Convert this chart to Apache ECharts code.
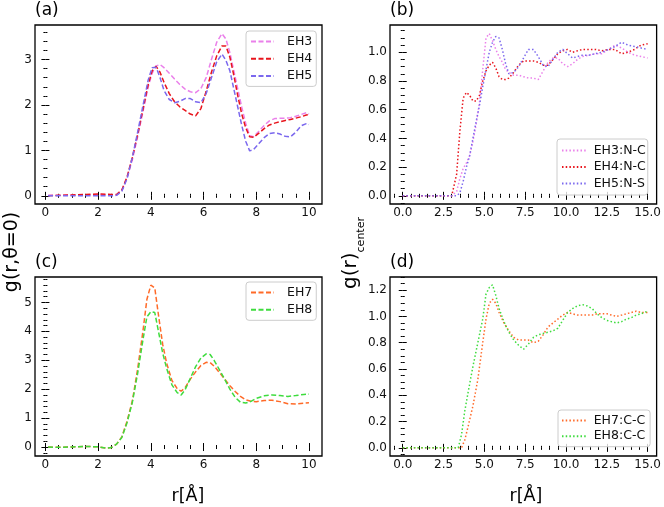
<!DOCTYPE html>
<html><head><meta charset="utf-8">
<script src="https://cdn.jsdelivr.net/npm/echarts@6/dist/echarts.min.js"></script>
<style>html,body{margin:0;padding:0;background:#fff}#c{width:664px;height:507px}</style>
</head><body><div id="c"></div>
<script>
// ---------- data ----------
const xA = [0.1,0.5,1.0,1.5,2.0,2.5,2.7,2.9,3.1,3.3,3.5,3.7,3.9,4.05,4.2,4.35,4.5,4.7,4.9,5.1,5.3,5.5,5.7,5.9,6.1,6.3,6.5,6.7,6.85,7.0,7.15,7.3,7.45,7.6,7.75,7.9,8.1,8.3,8.5,8.7,8.9,9.1,9.3,9.5,9.7,9.9,10.0];
const eh3 = [0.01,0.01,0.02,0.02,0.03,0.02,0.02,0.12,0.40,0.80,1.30,1.85,2.40,2.70,2.86,2.89,2.82,2.70,2.57,2.45,2.35,2.29,2.27,2.36,2.60,3.00,3.38,3.57,3.45,3.15,2.75,2.35,1.95,1.60,1.32,1.30,1.42,1.55,1.65,1.70,1.71,1.71,1.72,1.75,1.79,1.83,1.80];
const eh4 = [0.00,0.01,0.02,0.03,0.04,0.03,0.03,0.13,0.42,0.85,1.35,1.90,2.45,2.75,2.85,2.72,2.50,2.25,2.07,1.96,1.88,1.80,1.76,1.92,2.30,2.72,3.08,3.30,3.30,3.05,2.65,2.20,1.80,1.50,1.30,1.29,1.38,1.48,1.56,1.60,1.63,1.66,1.68,1.71,1.74,1.78,1.79];
const eh5 = [0.00,0.00,0.00,0.00,0.00,0.00,0.01,0.10,0.38,0.85,1.40,1.98,2.55,2.82,2.83,2.60,2.32,2.12,2.05,2.08,2.14,2.14,2.07,2.05,2.25,2.60,2.95,3.12,2.98,2.75,2.35,1.95,1.55,1.20,0.99,1.02,1.15,1.28,1.37,1.39,1.36,1.31,1.30,1.40,1.54,1.59,1.57];

const xB = [0.0,1.0,2.0,3.0,3.1,3.3,3.5,3.7,3.9,4.1,4.3,4.5,4.7,4.9,5.1,5.3,5.5,5.7,5.9,6.1,6.3,6.5,6.8,7.1,7.4,7.7,8.0,8.3,8.6,8.9,9.2,9.5,9.8,10.1,10.4,10.7,11.0,11.4,11.8,12.2,12.6,13.0,13.4,13.8,14.2,14.6,15.0];
const eh3NC = [0,0,0,0,0,0.03,0.12,0.19,0.23,0.28,0.38,0.50,0.65,0.88,1.10,1.13,1.08,1.02,0.97,0.93,0.88,0.86,0.84,0.84,0.83,0.82,0.82,0.81,0.87,0.93,0.96,0.96,0.92,0.90,0.92,0.95,0.97,0.98,0.99,0.99,1.02,1.05,1.03,1.00,0.98,0.97,0.96];
const eh4NC = [0,0,0,0,0,0.15,0.45,0.68,0.72,0.70,0.66,0.66,0.70,0.80,0.87,0.91,0.93,0.89,0.83,0.81,0.81,0.82,0.86,0.91,0.94,0.94,0.94,0.93,0.91,0.91,0.95,0.99,1.01,1.02,1.00,1.01,1.02,1.02,1.02,1.01,1.02,1.02,0.99,1.00,1.02,1.05,1.06];
const eh5NS = [0,0,0,0,0,0,0.02,0.10,0.20,0.28,0.40,0.52,0.63,0.76,0.88,1.00,1.07,1.11,1.10,1.02,0.92,0.85,0.86,0.90,0.96,1.02,1.02,0.97,0.91,0.90,0.95,1.00,1.02,0.99,0.96,0.97,0.98,0.98,0.99,1.00,1.02,1.04,1.07,1.05,1.04,1.03,1.02];

const xC = [0.1,0.5,1.0,1.5,2.0,2.3,2.5,2.7,2.9,3.1,3.3,3.5,3.7,3.85,4.0,4.15,4.3,4.45,4.6,4.8,5.0,5.15,5.3,5.5,5.7,5.9,6.1,6.25,6.4,6.6,6.8,7.0,7.2,7.4,7.6,7.8,8.0,8.3,8.6,8.9,9.2,9.5,9.8,10.0];
const eh7 = [0.00,-0.01,0.00,0.02,0.01,-0.04,-0.02,0.10,0.35,0.90,1.60,2.70,4.00,5.10,5.60,5.50,4.50,3.55,2.90,2.30,2.02,1.93,2.05,2.35,2.60,2.82,2.93,2.92,2.80,2.58,2.35,2.12,1.92,1.75,1.63,1.58,1.57,1.61,1.62,1.57,1.50,1.49,1.52,1.53];
const eh8 = [0.00,-0.01,0.00,0.02,0.01,-0.04,-0.02,0.10,0.33,0.85,1.55,2.55,3.70,4.50,4.68,4.65,3.95,3.25,2.72,2.15,1.88,1.80,1.98,2.38,2.78,3.08,3.22,3.20,3.00,2.68,2.35,2.00,1.72,1.55,1.52,1.58,1.68,1.77,1.80,1.78,1.75,1.78,1.82,1.83];

const xD = [0.0,1.0,2.0,3.0,3.4,3.6,3.8,4.0,4.3,4.6,4.9,5.1,5.3,5.5,5.7,5.9,6.2,6.5,6.8,7.1,7.4,7.7,8.0,8.3,8.6,8.9,9.2,9.5,9.8,10.1,10.4,10.7,11.0,11.3,11.6,11.9,12.2,12.5,12.8,13.1,13.4,13.7,14.0,14.3,14.6,15.0];
const eh7CC = [0,0,0,0,0,0,0.06,0.16,0.32,0.52,0.80,0.98,1.10,1.13,1.10,1.03,0.95,0.89,0.84,0.82,0.82,0.82,0.80,0.81,0.86,0.92,0.95,0.98,1.01,1.03,1.02,1.01,1.01,1.01,1.01,1.02,1.02,1.02,1.01,1.00,1.01,1.02,1.03,1.04,1.03,1.03];
const eh8CC = [0,0,0,0,0,0.10,0.28,0.42,0.62,0.80,0.98,1.17,1.22,1.24,1.16,1.06,0.96,0.88,0.82,0.78,0.75,0.79,0.84,0.86,0.87,0.88,0.89,0.91,0.97,1.03,1.06,1.08,1.09,1.08,1.06,1.02,0.99,0.97,0.96,0.95,0.96,0.98,0.99,1.01,1.02,1.04];

const aXTicks = [0,2,4,6,8,10];
const aYTicks = [0,1,2,3];
const bXTicks = [0,2.5,5,7.5,10,12.5,15];
const bYTicks = [0,0.2,0.4,0.6,0.8,1.0];
const cXTicks = [0,2,4,6,8,10];
const cYTicks = [0,1,2,3,4,5];
const dXTicks = [0,2.5,5,7.5,10,12.5,15];
const dYTicks = [0,0.2,0.4,0.6,0.8,1.0,1.2];

// ---------- chart ----------
const FONT = 'DejaVu Sans';
const pair = (xs, ys) => xs.map((x, i) => [x, ys[i]]);
function minors(lo, hi, step, majors) {
  const out = [];
  for (let k = Math.ceil(lo / step - 1e-9); k * step <= hi + 1e-9; k++) {
    const v = +(k * step).toFixed(6);
    if (!majors.some(m => Math.abs(m - v) < 1e-9)) out.push(v);
  }
  return out;
}
const panels = [
  {grid:{left:35,top:25,width:287,height:179}, xr:[-0.395,10.495], yr:[-0.18,3.76], xt:aXTicks, yt:aYTicks, xs:0.5, ys:0.2, xd:0, yd:0},
  {grid:{left:390,top:25,width:267,height:179}, xr:[-0.78,15.55], yr:[-0.057,1.19], xt:bXTicks, yt:bYTicks, xs:0.5, ys:0.05, xd:1, yd:1},
  {grid:{left:35,top:277,width:287,height:179}, xr:[-0.395,10.495], yr:[-0.31,5.88], xt:cXTicks, yt:cYTicks, xs:0.5, ys:0.2, xd:0, yd:0},
  {grid:{left:390,top:277,width:267,height:179}, xr:[-0.78,15.55], yr:[-0.062,1.30], xt:dXTicks, yt:dYTicks, xs:0.5, ys:0.05, xd:1, yd:1}
];
const grids = [], xAxes = [], yAxes = [];
const mainX = [], mainY = [];
panels.forEach((p, gi) => {
  grids.push(Object.assign({show:true, borderColor:'#000', borderWidth:1.3, backgroundColor:'#fff', containLabel:false}, p.grid));
  const xm = minors(p.xr[0], p.xr[1], p.xs, p.xt);
  const ym = minors(p.yr[0], p.yr[1], p.ys, p.yt);
  const base = (r) => ({type:'value', gridIndex:gi, min:r[0], max:r[1], splitLine:{show:false}, axisLine:{show:false}});
  [['bottom',true],['top',false]].forEach(([pos,lab]) => {
    if (lab) mainX.push(xAxes.length);
    xAxes.push(Object.assign(base(p.xr), {position:pos,
      axisTick:{show:true, inside:true, length:4, customValues:p.xt, lineStyle:{color:'#000', width:1}},
      axisLabel:{show:lab, customValues:p.xt, margin:3, color:'#111', fontFamily:FONT, fontSize:12,
        formatter:(v)=>(+v).toFixed(p.xd)}}));
    xAxes.push(Object.assign(base(p.xr), {position:pos,
      axisTick:{show:true, inside:true, length:2, customValues:xm, lineStyle:{color:'#000', width:1}},
      axisLabel:{show:false}}));
  });
  [['left',true],['right',false]].forEach(([pos,lab]) => {
    if (lab) mainY.push(yAxes.length);
    yAxes.push(Object.assign(base(p.yr), {position:pos,
      axisTick:{show:true, inside:true, length:4, customValues:p.yt, lineStyle:{color:'#000', width:1}},
      axisLabel:{show:lab, customValues:p.yt, margin:3, color:'#111', fontFamily:FONT, fontSize:12,
        formatter:(v)=>(+v).toFixed(p.yd)}}));
    yAxes.push(Object.assign(base(p.yr), {position:pos,
      axisTick:{show:true, inside:true, length:2, customValues:ym, lineStyle:{color:'#000', width:1}},
      axisLabel:{show:false}}));
  });
});
const DASH = [5, 2.5], DOT = [1.5, 2.2];
function ser(name, gi, xs, ys, color, type) {
  return {name, type:'line', xAxisIndex:mainX[gi], yAxisIndex:mainY[gi], data:pair(xs, ys),
    showSymbol:false, symbol:'none', smooth:false, animation:false,
    lineStyle:{color, width:1.5, type, cap:'butt'}, itemStyle:{color}};
}
const C3 = '#ea80ea', C4 = '#e8141c', C5 = '#7b68ee', C7 = '#ff6a28', C8 = '#3edc3e';
const series = [
  ser('EH3', 0, xA, eh3, C3, DASH),
  ser('EH4', 0, xA, eh4, C4, DASH),
  ser('EH5', 0, xA, eh5, C5, DASH),
  ser('EH3:N-C', 1, xB, eh3NC, C3, DOT),
  ser('EH4:N-C', 1, xB, eh4NC, C4, DOT),
  ser('EH5:N-S', 1, xB, eh5NS, C5, DOT),
  ser('EH7', 2, xC, eh7, C7, DASH),
  ser('EH8', 2, xC, eh8, C8, DASH),
  ser('EH7:C-C', 3, xD, eh7CC, C7, DOT),
  ser('EH8:C-C', 3, xD, eh8CC, C8, DOT)
];
function leg(names, left, top, gap, iw, tpad, pad) {
  return {data:names, orient:'vertical', left, top, itemWidth:iw, itemHeight:14, itemGap:gap,
    padding:pad, backgroundColor:'rgba(255,255,255,0.8)', borderColor:'#cccccc', borderWidth:1, borderRadius:3,
    selectedMode:false, itemStyle:{opacity:0, borderWidth:0},
    textStyle:{fontFamily:FONT, fontSize:12.5, color:'#111', padding:[0,0,0,tpad]}};
}
const legends = [
  leg(['EH3','EH4','EH5'], 246, 31, 4.2, 23, 8, [4,4,4,4]),
  leg(['EH3:N-C','EH4:N-C','EH5:N-S'], 557, 139, 3.5, 25, 1.7, [5,2,5,4]),
  leg(['EH7','EH8'], 246, 282, 4.3, 23, 8, [4,4,4,4]),
  leg(['EH7:C-C','EH8:C-C'], 558, 410, 2.7, 25, 1.7, [4,5,4,3])
];
const T = (text, x, y, size) => ({type:'text', x, y, silent:true,
  style:{text, fontFamily:FONT, fontSize:size, fill:'#000', align:'left', verticalAlign:'middle'}});
const graphic = [
  T('(a)', 35, 11, 17), T('(b)', 390, 11, 17), T('(c)', 35, 263, 17), T('(d)', 390, 263, 17),
  {type:'text', x:12, y:252, rotation:Math.PI/2, silent:true,
    style:{text:'g(r,θ=0)', fontFamily:FONT, fontSize:19, fill:'#000', align:'center', verticalAlign:'middle'}},
  {type:'text', x:349, y:253, rotation:Math.PI/2, silent:true,
    style:{text:'{a|g(r)}{b|center}', fontFamily:FONT, fill:'#000', align:'center', verticalAlign:'middle',
      rich:{a:{fontFamily:FONT, fontSize:20, fill:'#000', verticalAlign:'bottom', lineHeight:24},
            b:{fontFamily:FONT, fontSize:11, fill:'#000', verticalAlign:'bottom', lineHeight:24, padding:[0,0,-6,0]}}}},
  {type:'text', x:188, y:496, silent:true,
    style:{text:'r[Å]', fontFamily:FONT, fontSize:17.5, fill:'#000', align:'center', verticalAlign:'middle'}},
  {type:'text', x:526, y:496, silent:true,
    style:{text:'r[Å]', fontFamily:FONT, fontSize:17.5, fill:'#000', align:'center', verticalAlign:'middle'}}
];
const chart = echarts.init(document.getElementById('c'), null, {renderer:'canvas'});
chart.setOption({animation:false, backgroundColor:'#fff', grid:grids, xAxis:xAxes, yAxis:yAxes,
  series, legend:legends, graphic});
</script></body></html>
